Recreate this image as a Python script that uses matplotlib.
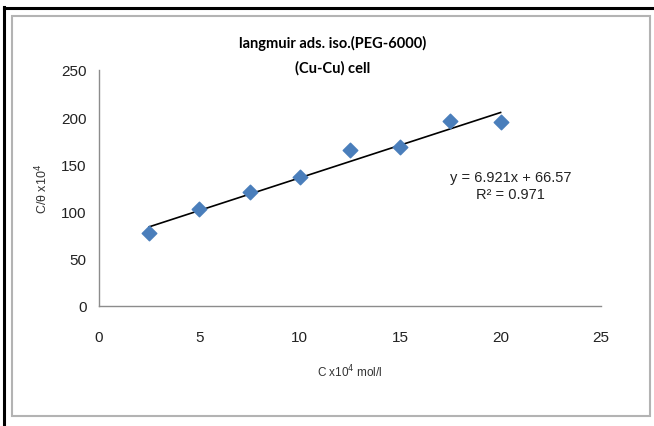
"""Langmuir adsorption isotherm, PEG-6000, Cu-Cu cell."""

import matplotlib
matplotlib.use("Agg")
import matplotlib.pyplot as plt
import numpy as np
from matplotlib.lines import Line2D
from matplotlib.patches import Rectangle

# data
conc = [2.5, 5, 7.5, 10, 12.5, 15, 17.5, 20]
c_theta = [77.0, 102.8, 121.1, 137.0, 165.6, 168.1, 196.3, 194.9]
slope = 6.921
intercept = 66.57
r2 = 0.971
xticks = [0, 5, 10, 15, 20, 25]
yticks = [0, 50, 100, 150, 200, 250]

arial = ["Liberation Sans", "DejaVu Sans"]
title_font = ["Lato", "DejaVu Sans"]


def main():
    fig = plt.figure(figsize=(6.54, 4.27), dpi=100)

    # outer frame: black on top/left, gray chart-area border inside
    fig.add_artist(Line2D([4 / 654, 4 / 654], [0, 1 - 8 / 427],
                          transform=fig.transFigure, color="black", lw=2.2))
    fig.add_artist(Line2D([4 / 654, 1], [1 - 9 / 427, 1 - 9 / 427],
                          transform=fig.transFigure, color="black", lw=2.2))
    fig.add_artist(Rectangle((12 / 654, 1 - 417 / 427), (650 - 12) / 654,
                             (417 - 17) / 427, transform=fig.transFigure,
                             fill=False, edgecolor="#b3b3b3", lw=1.5))

    ax = fig.add_axes([99 / 654, 1 - 307 / 427, (601 - 99) / 654, (307 - 71) / 427])
    ax.scatter(conc, c_theta, marker="D", s=55, color="#4a7ebb", zorder=3,
               edgecolors="#4a7ebb")
    xs = np.array([conc[0], conc[-1]])
    ax.plot(xs, slope * xs + intercept, color="black", lw=1.2, zorder=2)

    ax.set_xlim(0, 25)
    ax.set_ylim(0, 250)
    ax.set_xticks(xticks)
    ax.set_yticks(yticks)
    ax.tick_params(length=0, labelsize=11, colors="#222222")
    ax.tick_params(axis="x", pad=17)
    ax.tick_params(axis="y", pad=9)
    for lab in ax.get_xticklabels() + ax.get_yticklabels():
        lab.set_family(arial)
    for side in ["top", "right"]:
        ax.spines[side].set_visible(False)
    for side in ["left", "bottom"]:
        ax.spines[side].set_color("#8c8c8c")
        ax.spines[side].set_linewidth(1.0)

    ax.set_xlabel("C x10$^{4}$ mol/l", family=arial, fontsize=8.5,
                  color="#333333", labelpad=14)
    ax.set_ylabel("C/θ x10$^{4}$", family=arial, fontsize=9,
                  color="#333333", labelpad=8)

    ax.text(20.5, 128, f"y = {slope}x + {intercept}\nR² = {r2}", ha="center",
            va="center", family=arial, fontsize=10.5, color="#222222",
            linespacing=1.25)

    fig.text(333 / 654, 1 - 43 / 427, "langmuir ads. iso.(PEG-6000)",
             ha="center", va="center", family=title_font, fontsize=10.5,
             fontweight="bold")
    fig.text(333 / 654, 1 - 68 / 427, "(Cu-Cu) cell", ha="center",
             va="center", family=title_font, fontsize=10.5, fontweight="bold")

    fig.savefig("out.png", dpi=100)


if __name__ == "__main__":
    main()
